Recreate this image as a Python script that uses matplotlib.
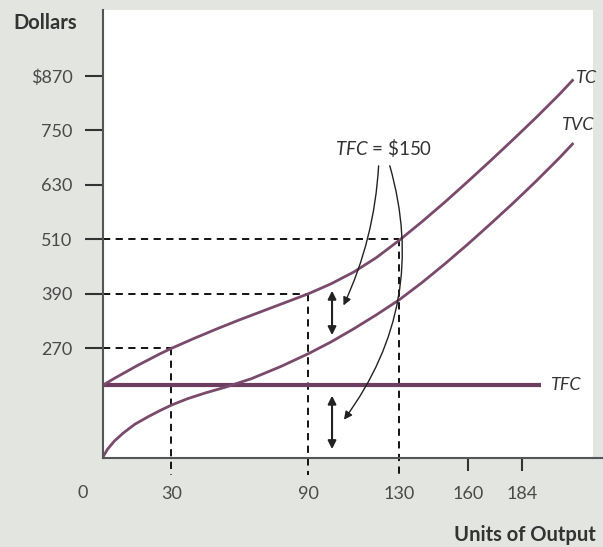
import matplotlib
matplotlib.use("Agg")
import matplotlib.pyplot as plt

# values (schematic cost curves)
tc_x = [0, 5, 10, 15, 20, 25, 30, 40, 50, 60, 70, 80, 90, 100, 110, 120, 130,
        140, 150, 160, 170, 180, 190, 200, 206]
tc_y = [189, 204, 218, 232, 245, 258, 270, 292, 313, 333, 352, 371, 390, 412, 438, 470, 508,
        549, 592, 637, 683, 730, 778, 828, 860]
tvc_x = [0, 2, 5, 9, 14, 20, 25, 30, 37, 45, 54, 65, 78, 90, 100, 110, 120, 130,
         140, 150, 160, 170, 180, 190, 200, 206]
tvc_y = [31, 48, 66, 84, 103, 120, 133, 145, 159, 172, 185, 203, 230, 258, 284, 313, 344, 377,
         415, 456, 499, 544, 590, 638, 688, 720]
tfc_x = [0, 192]
tfc_y = [189, 189]

y_ticks = [270, 390, 510, 630, 750, 870]
y_labels = ["270", "390", "510", "630", "750", "$870"]
x_ticks = [30, 90, 130, 160, 184]
guide_x = [30, 90, 130]
guide_y = [270, 390, 510]

curve = "#7a4a6c"
bg = "#e2e5e0"
txt = "#4a4a4a"

plt.rcParams["font.family"] = ["Lato", "DejaVu Sans"]
plt.rcParams["mathtext.fontset"] = "custom"
plt.rcParams["mathtext.it"] = "Lato:italic"
plt.rcParams["mathtext.rm"] = "Lato"

fig = plt.figure(figsize=(6.03, 5.47), dpi=100, facecolor=bg)
ax = fig.add_axes([0.1708, 0.1627, 0.9834 - 0.1708, 0.9817 - 0.1627])
ax.set_facecolor("white")
ax.set_xlim(0, 215)
ax.set_ylim(28.6, 1015)

for s in ["top", "right"]:
    ax.spines[s].set_visible(False)
for s in ["left", "bottom"]:
    ax.spines[s].set_color("#555555")
    ax.spines[s].set_linewidth(1.5)
# bottom axis line runs on to the figure edge
ax.plot([1, 1.03], [0, 0], transform=ax.transAxes, color="#555555", lw=1.5, clip_on=False)

# dashed guides
for gx, gy in zip(guide_x, guide_y):
    ax.plot([0, gx], [gy, gy], color="black", lw=1.3, dashes=(4, 3))
    ax.plot([gx, gx], [gy, -9], color="black", lw=1.3, dashes=(4, 3), clip_on=False)

# cost curves
ax.plot(tfc_x, tfc_y, color="#6d3e60", lw=3.0, solid_capstyle="butt")
ax.plot(tc_x, tc_y, color=curve, lw=2.0)
ax.plot(tvc_x, tvc_y, color=curve, lw=2.0)

lab = dict(fontsize=13, color="#333333", style="italic")
ax.text(207, 866, "TC", ha="left", va="center", **lab)
ax.text(201, 745, "TVC", ha="left", va="bottom", **lab)
ax.text(196, 189, "TFC", ha="left", va="center", **lab)

# TFC = $150 annotation with curved arrows
ax.text(123, 711, r"$\mathit{TFC}$ = \$150", ha="center", va="center",
        fontsize=13.5, color="#333333")
ax.annotate("", xy=(105, 359), xytext=(121, 678),
            arrowprops=dict(arrowstyle="-|>", color="#222222", lw=1.0,
                            mutation_scale=12, connectionstyle="arc3,rad=-0.1"))
ax.annotate("", xy=(105, 108), xytext=(125.5, 678),
            arrowprops=dict(arrowstyle="-|>", color="#222222", lw=1.0,
                            mutation_scale=12, connectionstyle="arc3,rad=-0.25"))

# double-headed arrows marking the constant gap
ax.annotate("", xy=(100.5, 403), xytext=(100.5, 293),
            arrowprops=dict(arrowstyle="<|-|>", color="#222222", lw=1.5, mutation_scale=12))
ax.annotate("", xy=(100.5, 172), xytext=(100.5, 42),
            arrowprops=dict(arrowstyle="<|-|>", color="#222222", lw=1.5, mutation_scale=12))

# ticks
ax.set_yticks(y_ticks)
ax.set_yticklabels(y_labels)
ax.tick_params(axis="y", direction="out", length=13, width=1.5, color="#333333",
               pad=9, labelsize=13, labelcolor=txt)
ax.set_xticks(x_ticks)
ax.set_xticklabels([str(v) for v in x_ticks])
ax.tick_params(axis="x", direction="out", length=9, width=1.5, color="#333333",
               pad=11, labelsize=13, labelcolor=txt)
for t in ax.xaxis.get_major_ticks()[:3]:
    t.tick1line.set_visible(False)

ax.text(-9, -48, "0", ha="center", va="center", fontsize=13, color=txt, clip_on=False)

fig.text(13 / 603, 1 - 23 / 547, "Dollars", ha="left", va="center",
         fontsize=14.5, fontweight="bold", color="#333333")
fig.text(596 / 603, 1 - 535 / 547, "Units of Output", ha="right", va="center",
         fontsize=14.5, fontweight="bold", color="#333333")

fig.savefig("out.png", dpi=100, facecolor=bg)
